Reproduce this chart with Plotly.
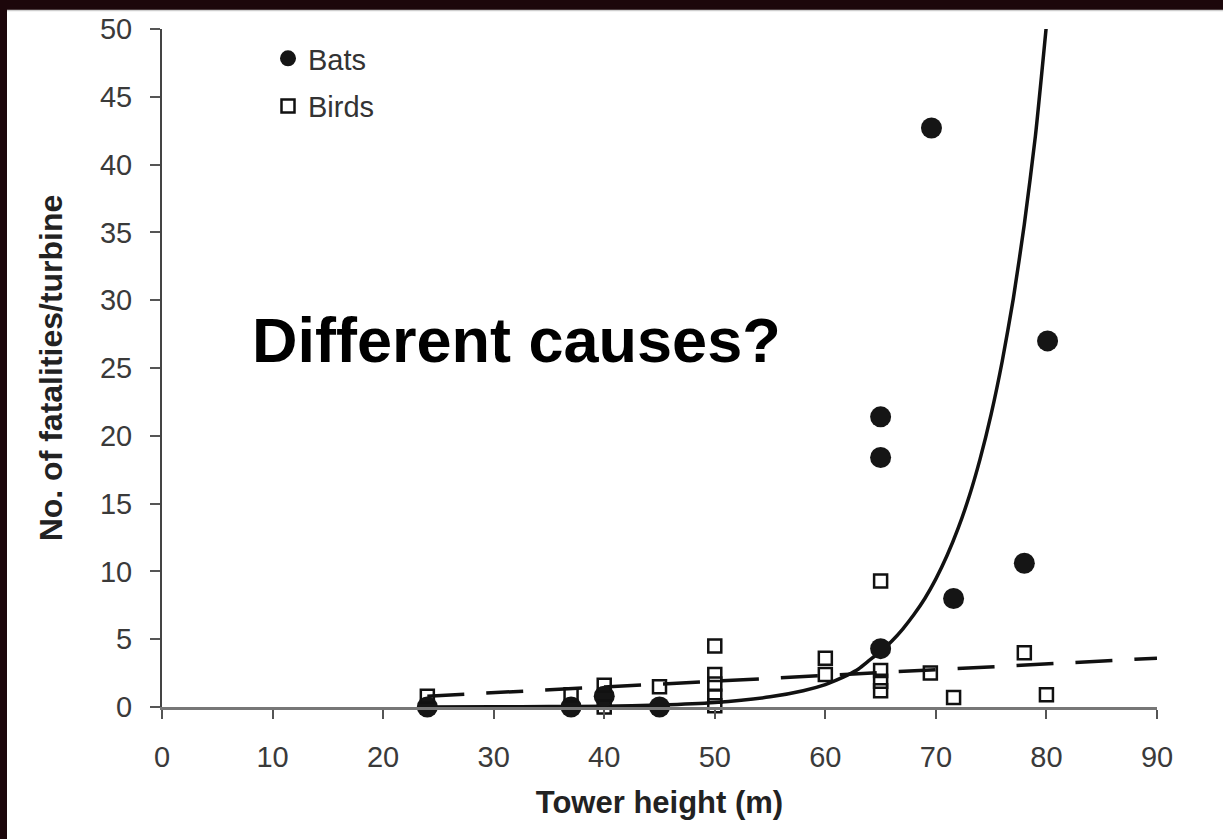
import plotly.graph_objects as go

# ---- data ----
bats_x = [24, 37, 40, 45, 65, 65, 65, 69.6, 71.6, 78, 80.1]
bats_y = [0.0, 0.0, 0.8, 0.0, 4.3, 18.4, 21.4, 42.7, 8.0, 10.6, 27.0]

birds_x = [24, 37, 40, 40, 45, 50, 50, 50, 50, 50, 60, 60, 65, 65, 65, 65, 69.5, 71.6, 78, 80]
birds_y = [0.8, 0.9, 1.6, 0.0, 1.5, 4.5, 2.4, 1.7, 0.8, 0.1, 3.6, 2.4, 9.3, 2.7, 1.9, 1.2, 2.5, 0.7, 4.0, 0.9]

bats_fit_x = [24, 30, 35, 40, 45, 50, 55, 58, 60, 61, 62, 63, 64, 65, 66, 67, 68, 69, 70,
              71, 72, 73, 74, 75, 76, 77, 78, 79, 80]
bats_fit_y = [0.0, 0.01, 0.03, 0.06, 0.14, 0.33, 0.75, 1.2, 1.65, 1.98, 2.35, 2.8, 3.45, 4.1, 4.85, 5.75, 6.8, 8.0, 9.45,
              11.15, 13.15, 15.5, 18.3, 21.6, 25.5, 30.1, 35.6, 42.1, 50.3]

birds_fit_x = [24, 90]
birds_fit_y = [0.8, 3.6]

x_ticks = [0, 10, 20, 30, 40, 50, 60, 70, 80, 90]
y_ticks = [0, 5, 10, 15, 20, 25, 30, 35, 40, 45, 50]

FONT = "Liberation Sans, Arial, Helvetica, sans-serif"
W, H = 1223, 839
L, R, T, B = 162, 66, 29, 132
pw, ph = W - L - R, H - T - B

fig = go.Figure()

fig.add_trace(go.Scatter(
    x=bats_fit_x, y=bats_fit_y, mode="lines", line=dict(color="#111", width=3.5, shape="spline", smoothing=0.6),
    showlegend=False, hoverinfo="skip"))
fig.add_trace(go.Scatter(
    x=birds_fit_x, y=birds_fit_y, mode="lines", line=dict(color="#111", width=3.5, dash="37px,22px"),
    showlegend=False, hoverinfo="skip"))
fig.add_trace(go.Scatter(
    x=bats_x, y=bats_y, mode="markers", name="Bats", legendgroup="bats",
    marker=dict(symbol="circle", size=21, color="#151515", line=dict(width=0)), cliponaxis=False))
fig.add_trace(go.Scatter(
    x=birds_x, y=birds_y, mode="markers", name="Birds", legendgroup="birds",
    marker=dict(symbol="square-open", size=13, color="#111", line=dict(width=2.5, color="#111")), cliponaxis=False))

# page background: white slide area with dark border strips
fig.add_shape(type="rect", xref="paper", yref="paper",
              x0=(7 - L) / pw, x1=(W + 20 - L) / pw, y0=-(B + 20) / ph, y1=(ph + T - 10) / ph,
              fillcolor="white", line=dict(width=0), layer="below")
fig.add_shape(type="line", xref="paper", yref="paper",
              x0=(7 - L) / pw, x1=(W + 20 - L) / pw, y0=(ph + T - 10.5) / ph, y1=(ph + T - 10.5) / ph,
              line=dict(color="#cfcfcf", width=1.5), layer="below")

fig.add_annotation(text="Different causes?", xref="paper", yref="paper",
                   x=(250 - L) / pw, y=(707 - 340) / ph, xanchor="left", yanchor="middle",
                   showarrow=False, font=dict(family=FONT, size=63, color="black", weight="bold"))

fig.update_layout(
    width=W, height=H,
    margin=dict(l=L, r=R, t=T, b=B, autoexpand=False),
    paper_bgcolor="#1c070b", plot_bgcolor="white",
    font=dict(family=FONT, color="#333"),
    showlegend=True,
    legend=dict(x=(268 - L) / pw, y=1 - 4 / ph, xanchor="left", yanchor="top",
                bgcolor="rgba(0,0,0,0)", font=dict(family=FONT, size=29, color="#333"),
                itemwidth=30, itemsizing="trace", tracegroupgap=7, traceorder="grouped"),
    xaxis=dict(range=[0, 90], tickvals=x_ticks, ticks="outside", ticklen=9, tickwidth=2, tickcolor="#555",
               showline=True, linecolor="#777", linewidth=2.5, showgrid=False, zeroline=False,
               tickfont=dict(family=FONT, size=29, color="#3a3a3a"), ticklabelstandoff=13,
               title=dict(text="Tower height (m)", standoff=20,
                          font=dict(family=FONT, size=31, color="#222", weight="bold"))),
    yaxis=dict(range=[0, 50], tickvals=y_ticks, ticks="outside", ticklen=10, tickwidth=2, tickcolor="#555",
               showline=True, linecolor="#444", linewidth=2, showgrid=False, zeroline=False,
               tickfont=dict(family=FONT, size=29, color="#3a3a3a"), ticklabelstandoff=12,
               title=dict(text="No. of fatalities/turbine", standoff=28,
                          font=dict(family=FONT, size=32, color="#222", weight="bold"))),
)

fig.write_html("out.html", config={"displayModeBar": False},
               post_script="document.body.style.margin='0px';document.body.style.overflow='hidden';"
                           "document.body.style.background='#1c070b';")
